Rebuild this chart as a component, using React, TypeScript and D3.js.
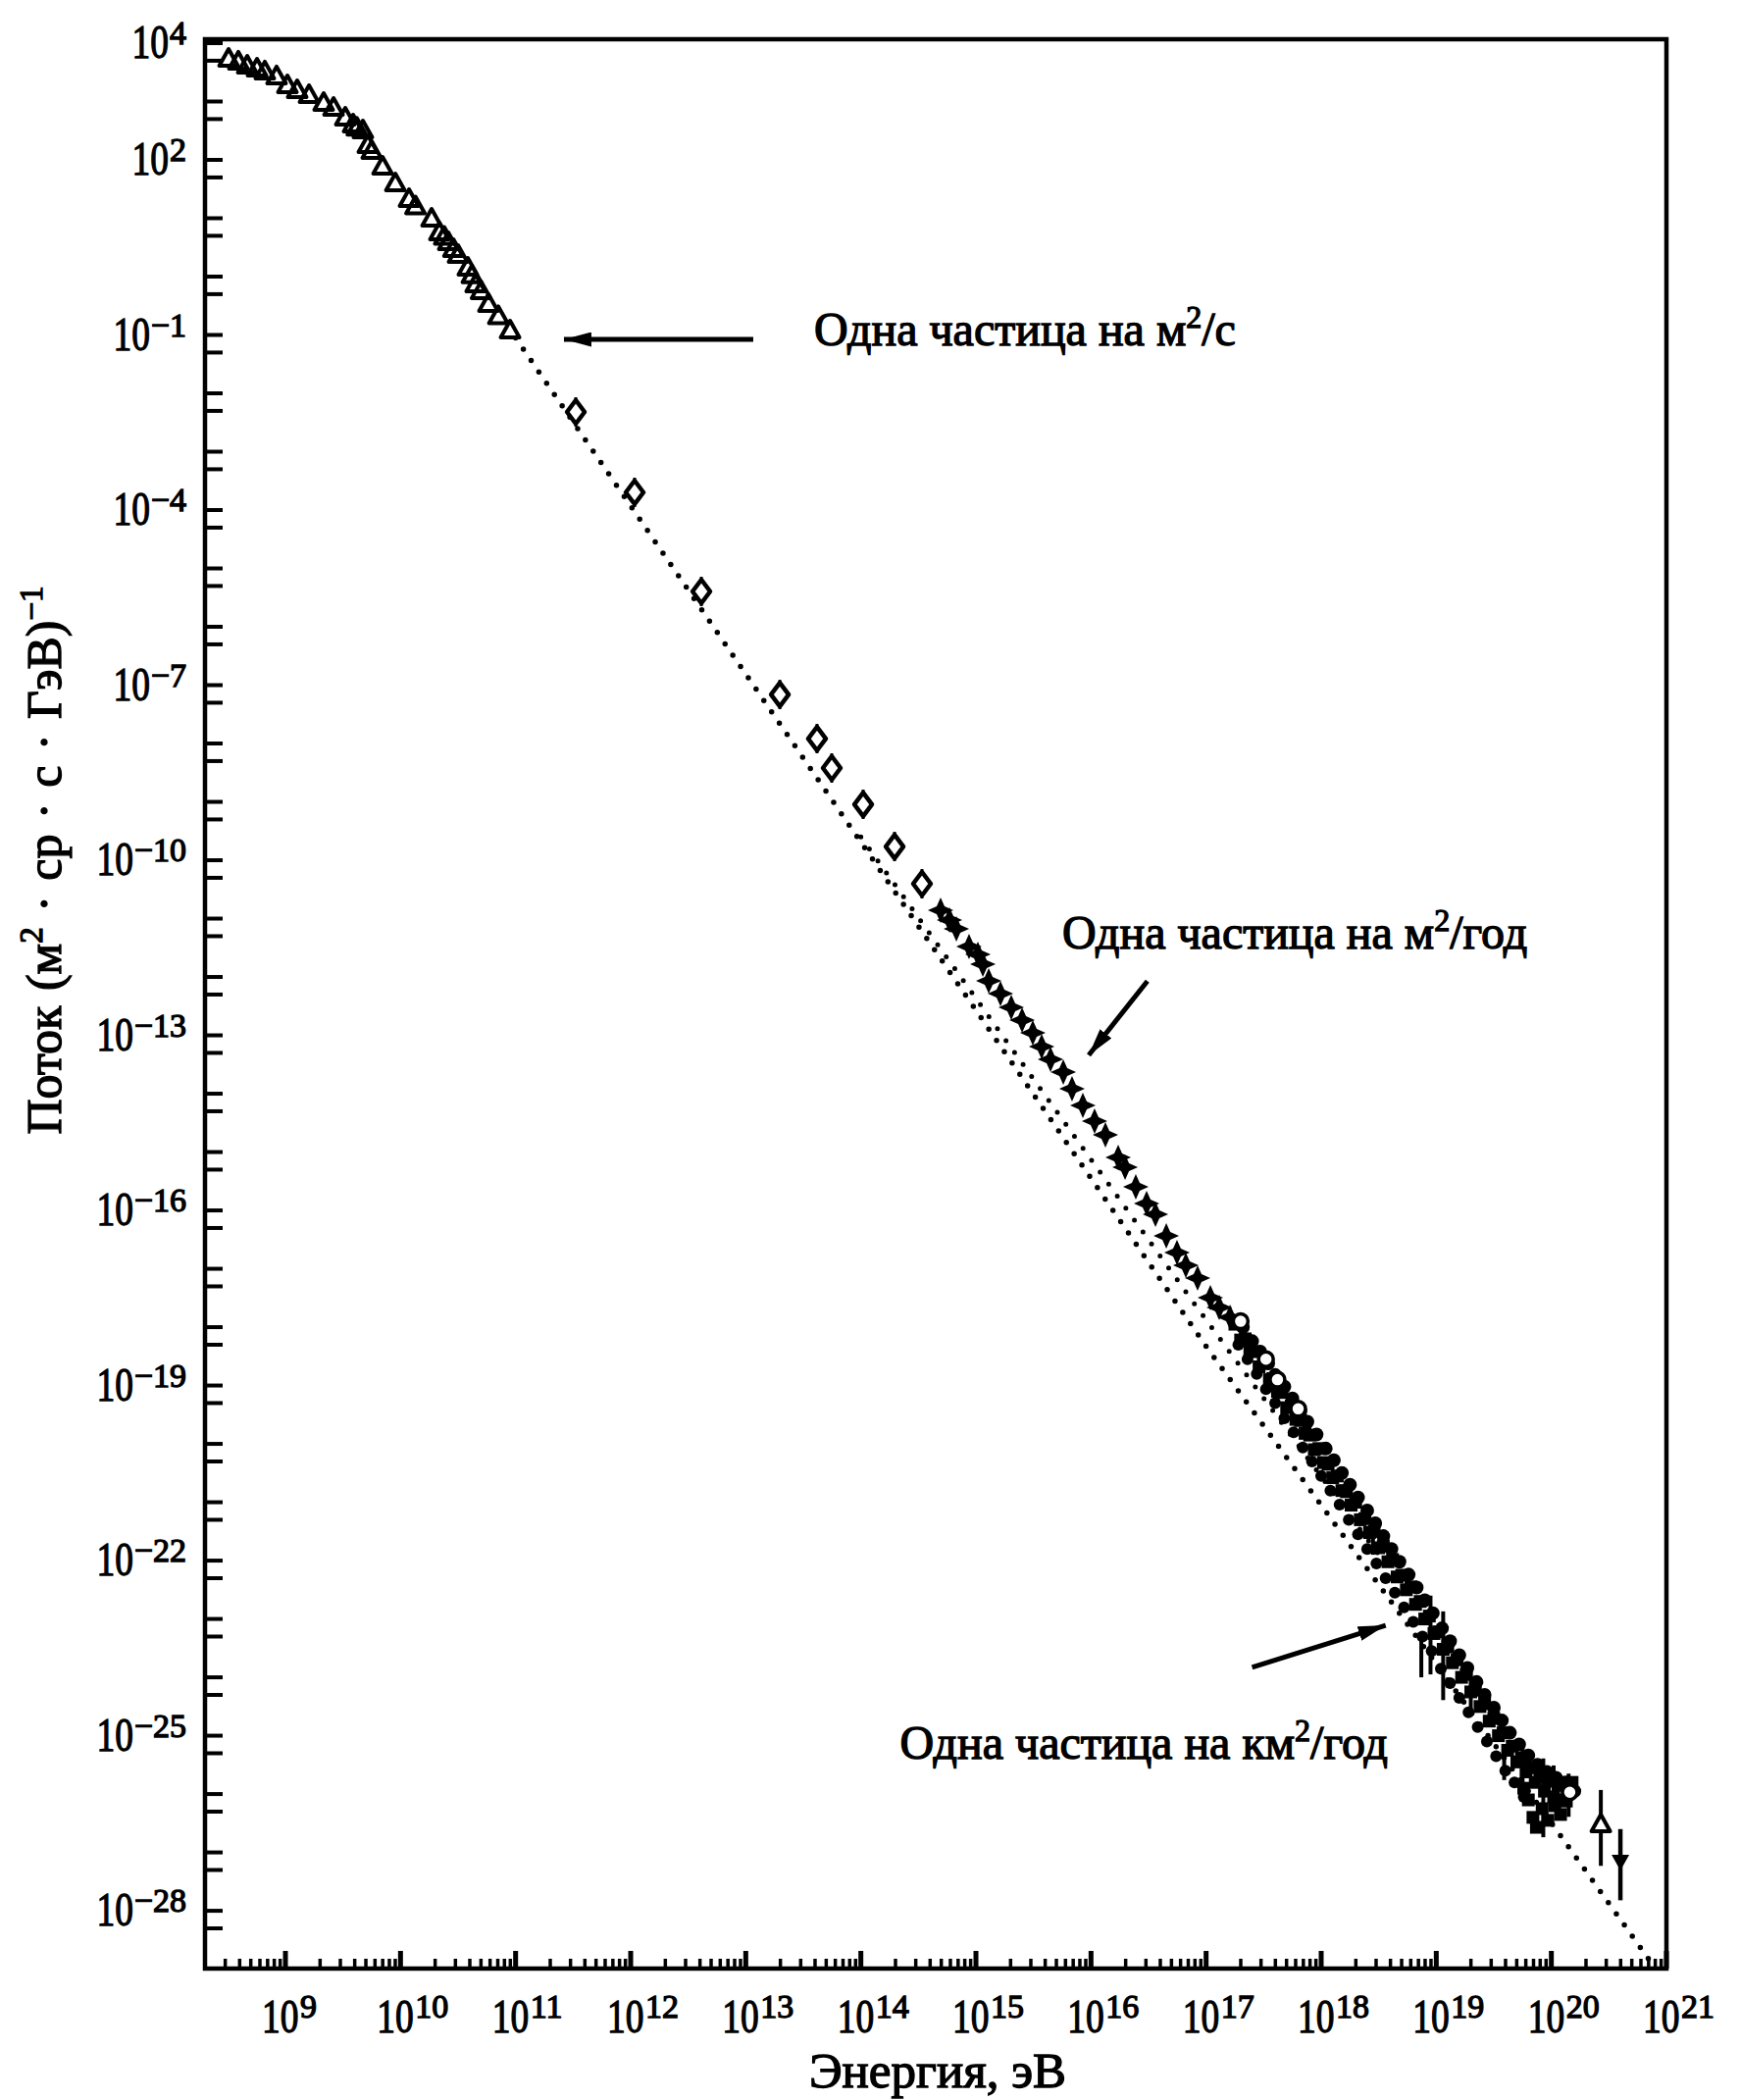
import React from "react";
import * as d3 from "d3";

const W = 1774;
const H = 2141;

// ---------- data (log10 of energy in eV, log10 of flux in (m^2 sr s GeV)^-1) ----------
const triangleE = [8.506, 8.591, 8.668, 8.753, 8.821, 8.923, 9.017, 9.102, 9.205, 9.332, 9.418, 9.52, 9.588, 9.62, 9.673, 9.716, 9.75, 9.844, 9.955, 10.074, 10.13, 10.27, 10.338, 10.38, 10.415, 10.46, 10.5, 10.585, 10.62, 10.653, 10.7, 10.764, 10.85, 10.952];
const triangleF = [3.731, 3.681, 3.613, 3.563, 3.513, 3.429, 3.277, 3.193, 3.109, 2.975, 2.891, 2.723, 2.605, 2.55, 2.504, 2.252, 2.15, 1.882, 1.597, 1.328, 1.2, 0.992, 0.756, 0.68, 0.588, 0.47, 0.37, 0.151, 0.02, -0.134, -0.25, -0.471, -0.68, -0.924];

const diamondE = [11.523, 12.034, 12.614, 13.296, 13.619, 13.747, 14.02, 14.293, 14.531];
const diamondF = [-2.319, -3.697, -5.395, -7.16, -7.916, -8.42, -9.042, -9.765, -10.403];

const starE = [14.693, 14.77, 14.83, 14.94, 15.017, 15.06, 15.111, 15.213, 15.307, 15.401, 15.494, 15.571, 15.648, 15.759, 15.835, 15.929, 16.031, 16.125, 16.236, 16.296, 16.389, 16.483, 16.56, 16.654, 16.747, 16.824, 16.926, 17.037, 17.114, 17.208];
const starF = [-10.857, -11.025, -11.176, -11.479, -11.613, -11.782, -12.067, -12.286, -12.521, -12.739, -12.958, -13.193, -13.412, -13.63, -13.916, -14.202, -14.471, -14.706, -15.092, -15.261, -15.597, -15.882, -16.067, -16.437, -16.723, -16.941, -17.16, -17.496, -17.664, -17.832];

const bandE = [17.25, 17.3, 17.34, 17.38, 17.42, 17.46, 17.5, 17.55, 17.58, 17.62, 17.66, 17.7, 17.74, 17.78, 17.82, 17.86, 17.9, 17.94, 17.98, 18.02, 18.06, 18.1, 18.14, 18.18, 18.22, 18.26, 18.3, 18.34, 18.38, 18.42, 18.46, 18.5, 18.54, 18.58, 18.62, 18.66, 18.7, 18.74, 18.78, 18.82, 18.86, 18.9, 18.94, 18.98, 19.02, 19.06, 19.1, 19.14, 19.18, 19.22, 19.26, 19.3, 19.34, 19.38, 19.42, 19.46, 19.5, 19.54, 19.58, 19.62, 19.66, 19.7, 19.74, 19.78, 19.82, 19.86, 19.9, 19.94, 19.98, 20.02, 20.06, 20.1, 20.14, 19.76, 19.8, 19.84, 19.87, 19.92, 19.97, 20.03, 20.08, 20.13, 20.18];
const bandF = [-17.95, -18.22, -18.2, -18.38, -18.42, -18.68, -18.62, -18.9, -18.88, -19.1, -19.12, -19.38, -19.35, -19.58, -19.6, -19.82, -19.85, -20.1, -20.08, -20.32, -20.35, -20.58, -20.55, -20.8, -20.82, -21.05, -21.0, -21.3, -21.28, -21.52, -21.5, -21.78, -21.75, -22.02, -21.98, -22.28, -22.25, -22.5, -22.45, -22.75, -22.7, -23.0, -22.95, -23.25, -23.22, -23.52, -23.48, -23.75, -23.7, -24.0, -23.95, -24.25, -24.22, -24.5, -24.45, -24.75, -24.7, -25.0, -24.95, -25.25, -25.18, -25.45, -25.38, -25.62, -25.55, -25.8, -25.7, -25.95, -25.78, -26.05, -25.85, -26.1, -25.92, -25.9, -26.1, -26.4, -26.57, -26.25, -26.45, -26.2, -26.35, -26.12, -25.8];

const band2E = [17.32, 17.4, 17.47, 17.54, 17.6, 17.68, 17.75, 17.82, 17.88, 17.96, 18.04, 18.11, 18.18, 18.25, 18.32, 18.4, 18.47, 18.54, 18.61, 18.68, 18.76, 18.83, 18.9, 18.97, 19.05, 19.12, 19.2, 19.27, 19.35, 19.42, 19.5, 19.57, 19.64, 19.72, 19.8, 19.88, 19.96, 20.04, 20.12, 20.2];
const band2F = [-18.0, -18.24, -18.42, -18.62, -18.82, -19.02, -19.22, -19.44, -19.62, -19.84, -20.08, -20.28, -20.5, -20.7, -20.92, -21.14, -21.36, -21.58, -21.8, -22.02, -22.24, -22.46, -22.68, -22.9, -23.16, -23.38, -23.62, -23.84, -24.08, -24.3, -24.52, -24.74, -24.95, -25.15, -25.34, -25.5, -25.62, -25.72, -25.8, -25.95];

const band3E = [17.28, 17.36, 17.44, 17.52, 17.6, 17.68, 17.76, 17.84, 17.92, 18.0, 18.08, 18.16, 18.24, 18.32, 18.4, 18.48, 18.56, 18.64, 18.72, 18.8, 18.88, 18.96, 19.04, 19.12, 19.2, 19.28, 19.36, 19.44, 19.52, 19.6, 19.68, 19.76];
const band3F = [-18.3, -18.55, -18.8, -19.06, -19.3, -19.56, -19.8, -20.06, -20.3, -20.55, -20.8, -21.04, -21.3, -21.55, -21.8, -22.05, -22.3, -22.55, -22.8, -23.05, -23.3, -23.55, -23.85, -24.1, -24.35, -24.6, -24.85, -25.1, -25.35, -25.6, -25.8, -26.05];

const circleE = [17.3, 17.52, 17.62, 17.8, 20.16];
const circleF = [-17.9, -18.55, -18.9, -19.4, -25.97];

const errE = [18.45, 18.87, 18.95, 19.06, 19.3, 19.59, 19.75, 19.93, 20.02, 20.15];
const errLo = [-21.3, -23.28, -22.6, -22.87, -23.9, -25.2, -25.2, -25.39, -25.51, -25.65];
const errHi = [-21.9, -24.0, -23.95, -24.39, -24.6, -25.76, -25.9, -26.74, -26.3, -26.39];

const upTriE = [20.43];
const upTriF = [-26.52];
const upTriLo = [-25.93];
const upTriHi = [-27.23];

const downTriE = [20.6];
const downTriF = [-27.16];
const downTriLo = [-26.6];
const downTriHi = [-27.82];

const fit1E = [11.0, 14.0, 17.0, 18.0, 20.09, 20.85];
const fit1F = [-1.05, -9.69, -18.33, -21.05, -26.74, -28.84];
const fit2E = [14.0, 15.5, 16.92, 18.5];
const fit2F = [-9.6, -13.75, -17.66, -21.9];

const xLabelExps = [9, 10, 11, 12, 13, 14, 15, 16, 17, 18, 19, 20, 21];
const yLabelExps = [4, 2, -1, -4, -7, -10, -13, -16, -19, -22, -25, -28];

const annText = ["Одна частица на м", "Одна частица на м", "Одна частица на км"];
const annTail = ["/с", "/год", "/год"];
const annTextE = [13.594, 15.75, 14.34];
const annTextF = [-1.176, -11.51, -25.39];
const arrowFromE = [13.065, 16.49, 17.4];
const arrowFromF = [-1.076, -12.07, -23.83];
const arrowToE = [11.42, 15.98, 18.56];
const arrowToF = [-1.076, -13.34, -23.11];

// ---------- layout ----------
const X0 = 209;
const X1 = 1699;
const Y0 = 40;
const Y1 = 2007;
const FONT = "'Liberation Serif', 'Times New Roman', Times, serif";

const x = d3.scaleLog().domain([Math.pow(10, 8.301), 1e21]).range([X0, X1]);
const y = d3.scaleLog().domain([Math.pow(10, -28.99), Math.pow(10, 4.067)]).range([Y1, Y0]);
const px = (e: number) => x(Math.pow(10, e));
const py = (e: number) => y(Math.pow(10, e));

const zip = (a: number[], b: number[]) => a.map((v, i) => [v, b[i]] as [number, number]);

const lineGen = d3
  .line<[number, number]>()
  .x((d) => px(d[0]))
  .y((d) => py(d[1]));

const textStyle = { fill: "#000", stroke: "#000", strokeWidth: 1.3 } as const;

function XLabel({ e }: { e: number }) {
  const tx = px(e) - 24;
  const ty = 2072;
  return (
    <g style={textStyle} fontFamily={FONT}>
      <text transform={`translate(${tx},${ty}) scale(0.78,1)`} fontSize={48}>
        10
      </text>
      <text x={tx + 39} y={ty - 15} fontSize={34}>
        {String(e)}
      </text>
    </g>
  );
}

function YLabel({ e }: { e: number }) {
  const neg = e < 0;
  const digits = String(Math.abs(e)).length;
  const sup = (neg ? "\u2212" : "") + String(Math.abs(e));
  const supW = digits * 17 + (neg ? 19 : 0);
  const right = 190;
  const base = py(e) + 15;
  const tenEnd = right - supW - 1;
  return (
    <g style={textStyle} fontFamily={FONT}>
      <text transform={`translate(${tenEnd},${base}) scale(0.78,1)`} fontSize={48} textAnchor="end">
        10
      </text>
      <text x={right} y={base - 14} fontSize={34} textAnchor="end">
        {sup}
      </text>
    </g>
  );
}

export default function App() {
  const xTicks: { v: number; major: boolean }[] = [];
  for (let n = 8; n <= 20; n++) {
    for (let k = 1; k <= 9; k++) {
      const v = k * Math.pow(10, n);
      if (v >= x.domain()[0] && v <= x.domain()[1]) xTicks.push({ v, major: k === 1 });
    }
  }
  xTicks.push({ v: 1e21, major: true });

  const yTicks: number[] = [];
  for (let n = -29; n <= 4; n++) {
    yTicks.push(Math.pow(10, n));
    yTicks.push(5 * Math.pow(10, n - 1));
  }
  const yTicksIn = yTicks.filter((v) => v >= y.domain()[0] && v <= y.domain()[1]);

  const triPath = "M0,-10 L9.5,7 L-9.5,7 Z";
  const diamondPath = "M0,-12 L9,0 L0,12 L-9,0 Z";
  const starPath = "M0,-13 L4,-4 L13,0 L4,4 L0,13 L-4,4 L-13,0 L-4,-4 Z";
  const downTriPath = "M-9,-7 L9,-7 L0,9 Z";

  return (
    <svg
      width={W}
      height={H}
      viewBox={`0 0 ${W} ${H}`}
      style={{ position: "absolute", left: 0, top: 0, background: "#fff" }}
    >
      <rect x={0} y={0} width={W} height={H} fill="#fff" />

      {/* fit lines (dotted) */}
      <path
        d={lineGen(zip(fit1E, fit1F)) || ""}
        fill="none"
        stroke="#000"
        strokeWidth={5.5}
        strokeLinecap="round"
        strokeDasharray="0 14"
      />
      <path
        d={lineGen(zip(fit2E, fit2F)) || ""}
        fill="none"
        stroke="#000"
        strokeWidth={5}
        strokeLinecap="round"
        strokeDasharray="0 15"
      />

      {/* triangles */}
      {triangleE.map((e, i) => (
        <path
          key={"t" + i}
          d={triPath}
          transform={`translate(${px(e)},${py(triangleF[i])})`}
          fill="none"
          stroke="#000"
          strokeWidth={4}
          strokeLinejoin="round"
        />
      ))}

      {/* diamonds */}
      {diamondE.map((e, i) => (
        <g key={"d" + i} transform={`translate(${px(e)},${py(diamondF[i])})`}>
          <line x1={0} x2={0} y1={-15} y2={15} stroke="#000" strokeWidth={3} />
          <path d={diamondPath} fill="#fff" stroke="#000" strokeWidth={4.5} strokeLinejoin="round" />
        </g>
      ))}

      {/* stars */}
      {starE.map((e, i) => (
        <g key={"s" + i} transform={`translate(${px(e)},${py(starF[i])})`}>
          <path d={starPath} fill="#000" />
          <rect x={-5} y={-5} width={10} height={10} fill="#000" transform="rotate(45)" />
        </g>
      ))}

      {/* error bars in the band */}
      {errE.map((e, i) => (
        <line
          key={"eb" + i}
          x1={px(e)}
          x2={px(e)}
          y1={py(errLo[i])}
          y2={py(errHi[i])}
          stroke="#000"
          strokeWidth={4}
        />
      ))}

      {/* dense band */}
      {band3E.map((e, i) => (
        <circle key={"b3" + i} cx={px(e)} cy={py(band3F[i])} r={6} fill="#000" />
      ))}
      {bandE.map((e, i) => (
        <rect
          key={"b" + i}
          x={px(e) - 6.5}
          y={py(bandF[i]) - 6.5}
          width={13}
          height={13}
          fill="#000"
        />
      ))}
      {band2E.map((e, i) => (
        <circle key={"b2" + i} cx={px(e)} cy={py(band2F[i])} r={7} fill="#000" />
      ))}
      {circleE.map((e, i) => (
        <circle key={"c" + i} cx={px(e)} cy={py(circleF[i])} r={7.5} fill="#fff" stroke="#000" strokeWidth={3.5} />
      ))}

      {/* highest-energy points */}
      {upTriE.map((e, i) => (
        <g key={"ut" + i}>
          <line x1={px(e)} x2={px(e)} y1={py(upTriLo[i])} y2={py(upTriHi[i])} stroke="#000" strokeWidth={4} />
          <path
            d={triPath}
            transform={`translate(${px(e)},${py(upTriF[i])})`}
            fill="#fff"
            stroke="#000"
            strokeWidth={4}
            strokeLinejoin="round"
          />
        </g>
      ))}
      {downTriE.map((e, i) => (
        <g key={"dt" + i}>
          <line x1={px(e)} x2={px(e)} y1={py(downTriLo[i])} y2={py(downTriHi[i])} stroke="#000" strokeWidth={4.5} />
          <path d={downTriPath} transform={`translate(${px(e)},${py(downTriF[i])})`} fill="#000" />
        </g>
      ))}

      {/* frame */}
      <rect x={X0} y={Y0} width={X1 - X0} height={Y1 - Y0} fill="none" stroke="#000" strokeWidth={4.5} />

      {/* y ticks */}
      {yTicksIn.map((v, i) => (
        <line key={"yt" + i} x1={X0} x2={X0 + 18} y1={y(v)} y2={y(v)} stroke="#000" strokeWidth={4} />
      ))}
      {/* x ticks */}
      {xTicks.map((t, i) => (
        <line
          key={"xt" + i}
          x1={x(t.v)}
          x2={x(t.v)}
          y1={Y1}
          y2={Y1 - (t.major ? 18 : 10)}
          stroke="#000"
          strokeWidth={t.major ? 5 : 3.5}
        />
      ))}

      {/* tick labels */}
      {xLabelExps.map((e) => (
        <XLabel key={"xl" + e} e={e} />
      ))}
      {yLabelExps.map((e) => (
        <YLabel key={"yl" + e} e={e} />
      ))}

      {/* axis titles */}
      <text x={956} y={2128} textAnchor="middle" fontFamily={FONT} fontSize={51} style={textStyle}>
        Энергия, эВ
      </text>
      <text
        transform={`translate(62,877) rotate(-90)`}
        textAnchor="middle"
        fontFamily={FONT}
        fontSize={50}
        wordSpacing={3}
        style={textStyle}
      >
        Поток (м<tspan dy={-19} fontSize={33}>2</tspan>
        <tspan dy={19}> · ср · с · ГэВ)</tspan>
        <tspan dy={-19} fontSize={33}>{"\u22121"}</tspan>
      </text>

      {/* annotations */}
      <defs>
        <marker
          id="arrowHead"
          viewBox="0 0 10 10"
          refX={10}
          refY={5}
          markerWidth={28}
          markerHeight={15}
          markerUnits="userSpaceOnUse"
          orient="auto"
          preserveAspectRatio="none"
        >
          <path d="M0,0 L10,5 L0,10 Z" fill="#000" />
        </marker>
      </defs>
      {annText.map((t, i) => {
        const x1 = px(arrowFromE[i]);
        const y1 = py(arrowFromF[i]);
        const x2 = px(arrowToE[i]);
        const y2 = py(arrowToF[i]);
        return (
          <g key={"ann" + i}>
            <line x1={x1} y1={y1} x2={x2} y2={y2} stroke="#000" strokeWidth={5} markerEnd="url(#arrowHead)" />
            <text x={px(annTextE[i])} y={py(annTextF[i])} fontFamily={FONT} fontSize={48} style={textStyle}>
              {t}
              <tspan dy={-18} fontSize={32}>
                2
              </tspan>
              <tspan dy={18}>{annTail[i]}</tspan>
            </text>
          </g>
        );
      })}
    </svg>
  );
}
